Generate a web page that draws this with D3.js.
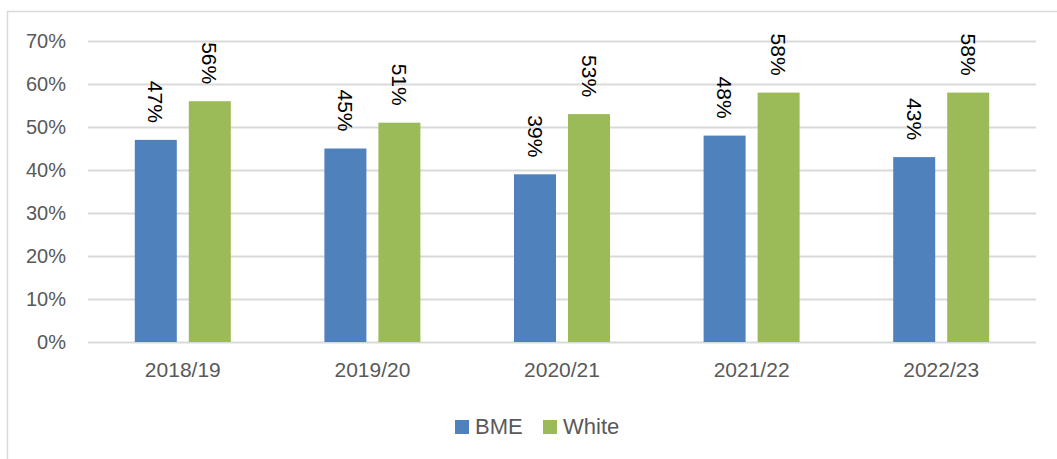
<!DOCTYPE html>
<html>
<head>
<meta charset="utf-8">
<script src="https://cdn.jsdelivr.net/npm/d3@7"></script>
<style>
  html, body { margin: 0; padding: 0; background: #fff; }
  svg { display: block; }
</style>
</head>
<body>
<svg id="chart" width="1057" height="459"></svg>
<script>
// Academic years shown along the x axis
const years = ["2018/19", "2019/20", "2020/21", "2021/22", "2022/23"];
// Series names (legend order)
const seriesNames = ["BME", "White"];
// Share of each group, per year (fractions)
const bmeValues = [0.47, 0.45, 0.39, 0.48, 0.43];
const whiteValues = [0.56, 0.51, 0.53, 0.58, 0.58];
// Y axis ticks
const yTicks = [0, 0.1, 0.2, 0.3, 0.4, 0.5, 0.6, 0.7];

const colors = { BME: "#4F81BD", White: "#9BBB59" };
const valuesBySeries = { BME: bmeValues, White: whiteValues };

const svg = d3.select("#chart");
const fontFamily = "'Liberation Sans', Arial, sans-serif";

// Outer chart frame
svg.append("rect")
  .attr("x", 7.5).attr("y", 11.5)
  .attr("width", 1200).attr("height", 600)
  .attr("fill", "none").attr("stroke", "#d9d9d9").attr("stroke-width", 1.5);

const plot = { left: 88, right: 1036, top: 41, bottom: 342 };

const x0 = d3.scaleBand().domain(years).range([plot.left, plot.right]).padding(0);
const x1 = d3.scaleBand().domain(seriesNames).range([-48, 48])
  .paddingInner(12 / 54).paddingOuter(0);
const y = d3.scaleLinear().domain([0, 0.7]).range([plot.bottom, plot.top]);

// Horizontal gridlines
svg.append("g")
  .selectAll("line")
  .data(yTicks)
  .join("line")
  .attr("x1", plot.left).attr("x2", plot.right)
  .attr("y1", d => Math.round(y(d)) + 0.5).attr("y2", d => Math.round(y(d)) + 0.5)
  .attr("stroke", "#d9d9d9").attr("stroke-width", 2);

// Y axis labels
const yAxis = d3.axisLeft(y).tickValues(yTicks).tickFormat(d3.format(".0%")).tickSize(0).tickPadding(0);
const yG = svg.append("g").attr("transform", `translate(66,0)`).call(yAxis);
yG.select(".domain").remove();
yG.selectAll("text")
  .attr("font-family", fontFamily).attr("font-size", 20).attr("fill", "#595959");

// X axis labels
const xAxis = d3.axisBottom(x0).tickSize(0).tickPadding(0);
const xG = svg.append("g").attr("transform", `translate(0,${plot.bottom + 20})`).call(xAxis);
xG.select(".domain").remove();
xG.selectAll("text")
  .attr("font-family", fontFamily).attr("font-size", 21).attr("fill", "#595959");

// Bars and rotated value labels
const rows = [];
years.forEach((yr, i) => {
  seriesNames.forEach(s => rows.push({ year: yr, series: s, value: valuesBySeries[s][i] }));
});

const cx = d => x0(d.year) + x0.bandwidth() / 2 + x1(d.series);

svg.append("g")
  .selectAll("rect")
  .data(rows)
  .join("rect")
  .attr("x", d => cx(d))
  .attr("y", d => y(d.value))
  .attr("width", x1.bandwidth())
  .attr("height", d => y(0) - y(d.value))
  .attr("fill", d => colors[d.series]);

svg.append("g")
  .selectAll("text")
  .data(rows)
  .join("text")
  .attr("transform", d => `translate(${cx(d) + x1.bandwidth() / 2 - 7.5},${y(d.value) - 17}) rotate(90)`)
  .attr("text-anchor", "end")
  .attr("font-family", fontFamily)
  .attr("font-size", 21)
  .attr("fill", "#000")
  .text(d => d3.format(".0%")(d.value));

// Legend
const legend = svg.append("g");
const legendItems = [{ name: "BME", x: 455 }, { name: "White", x: 543 }];
legendItems.forEach(item => {
  legend.append("rect")
    .attr("x", item.x).attr("y", 420).attr("width", 14).attr("height", 14)
    .attr("fill", colors[item.name]);
  legend.append("text")
    .attr("x", item.x + 20).attr("y", 434)
    .attr("font-family", fontFamily).attr("font-size", 22).attr("fill", "#595959")
    .text(item.name);
});
</script>
</body>
</html>
